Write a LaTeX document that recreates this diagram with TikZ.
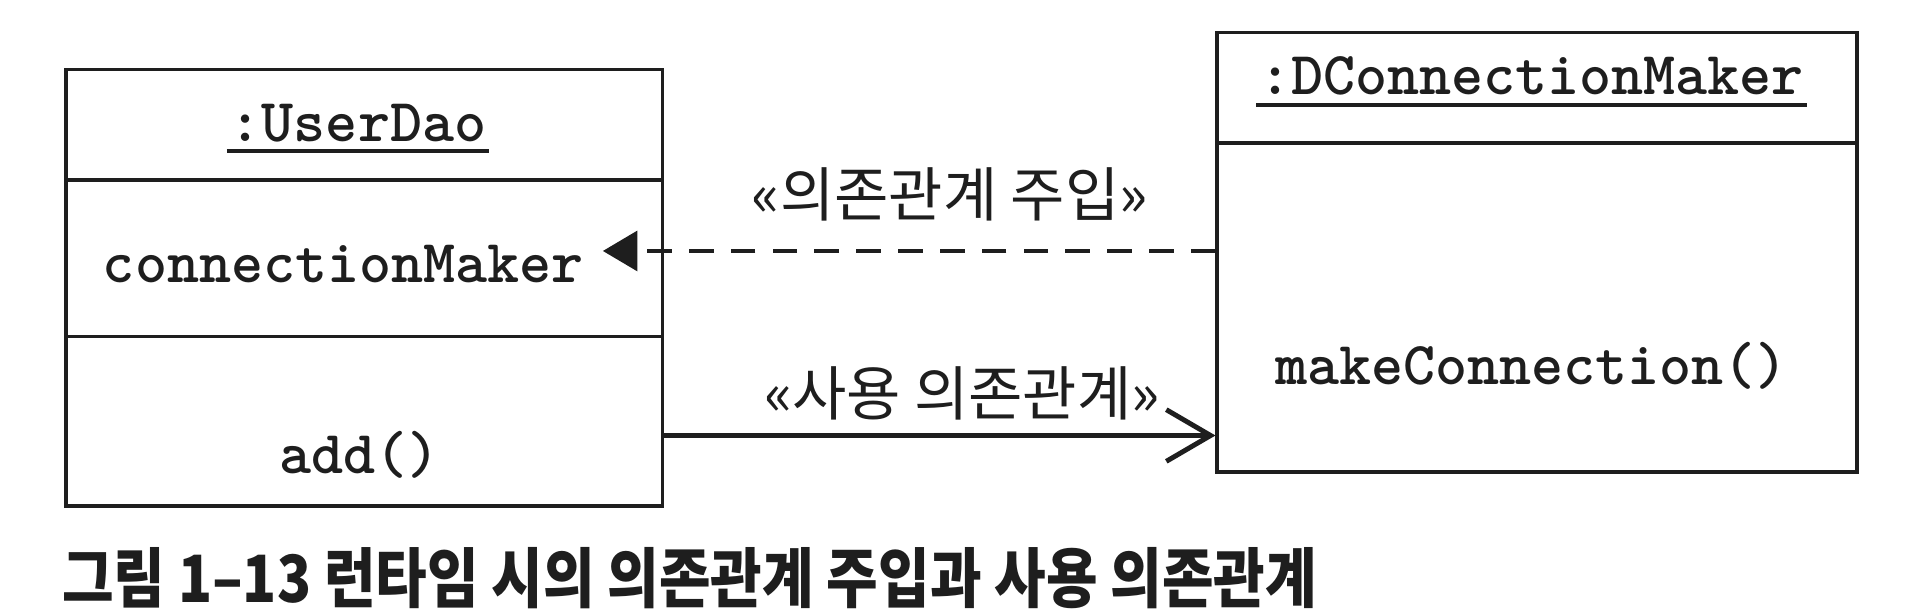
\documentclass[tikz,border=0pt]{standalone}
\usepackage{fontspec}
\usepackage{graphicx}
\setmainfont{Liberation Sans}
\newfontfamily\krfont{Noto Sans CJK KR}
\newfontfamily\codefont{lmmonolt10-bold.otf}
\usetikzlibrary{arrows.meta}
\definecolor{ink}{HTML}{1E1E1E}
\tikzset{
  compart/.style={draw=ink, line width=1.5pt, inner sep=0pt, anchor=north west},
  code/.style={font=\codefont\fontsize{24.8}{28}\selectfont, text=ink, inner sep=0pt},
  uline/.style={draw=ink, line width=1.7pt},
  lbl/.style={font=\krfont\fontsize{24}{28}\selectfont, text=ink, inner sep=0pt},
  captiontext/.style={font=\krfont\bfseries\fontsize{26.5}{30}\selectfont, text=ink, inner sep=0pt},
  injarrow/.style={draw=ink, line width=2pt, dash pattern=on 10pt off 7pt, -{Triangle[length=14pt,width=16pt]}},
  usearrow/.style={draw=ink, line width=2pt, -{Straight Barb[length=18pt,width=21pt,line width=2pt]}}
}
\begin{document}
\begin{tikzpicture}[x=0.5pt,y=-0.5pt]
\fill[white] (0,0) rectangle (1568,498);
\useasboundingbox (0,0) rectangle (1568,498);

% :UserDao object
\node[compart, minimum width=242.5pt, minimum height=45pt] (ud1) at (52,55) {};
\node[compart, minimum width=242.5pt, minimum height=63.5pt] (ud2) at (52,145) {};
\node[compart, minimum width=242.5pt, minimum height=69pt] (ud3) at (52,272) {};
\node[code] (udname) at (291,100) {:UserDao};
\draw[uline] ([xshift=-1pt,yshift=-4pt]udname.base west) -- ([xshift=1pt,yshift=-4pt]udname.base east);
\node[code] (cm) at (279,215) {connectionMaker};
\node[code] (add) at (292,370) {add()};

% :DConnectionMaker object
\node[compart, minimum width=260pt, minimum height=45pt] (dc1) at (988,25) {};
\node[compart, minimum width=260pt, minimum height=133.5pt] (dc2) at (988,115) {};
\node[code] (dcname) at (1245,62) {:DConnectionMaker};
\draw[uline] ([xshift=-1pt,yshift=-4pt]dcname.base west) -- ([xshift=1pt,yshift=-4pt]dcname.base east);
\node[code] (mc) at (1245,297) {makeConnection()};

% connectors
\coordinate (injtip) at (490,204);
\draw[injarrow] (dc2.west |- injtip) -- (injtip);
\node[lbl] (injlbl) at (772,158) {«의존관계 주입»};

\coordinate (usey) at (760,354);
\draw[usearrow] (ud3.east |- usey) -- (dc2.west |- usey);
\node[lbl] (uselbl) at (782,320) {«사용 의존관계»};

% caption
\node[captiontext, anchor=west] (caption) at (50,470) {\scalebox{0.86}[1]{그림 1–13 런타임 시의 의존관계 주입과 사용 의존관계}};
\end{tikzpicture}
\end{document}
